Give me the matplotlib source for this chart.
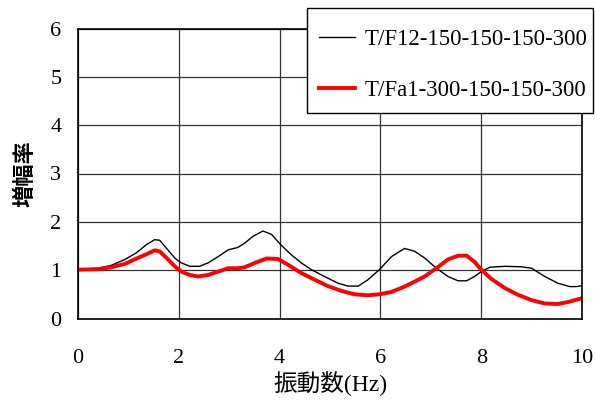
import matplotlib
matplotlib.use("Agg")
import matplotlib.pyplot as plt
from matplotlib.patches import Rectangle

freq_a = [0.0, 0.40, 0.66, 0.93, 1.16, 1.36, 1.52, 1.62, 1.75, 1.92, 2.05, 2.22, 2.41, 2.58, 2.78,
          2.98, 3.17, 3.31, 3.47, 3.67, 3.84, 4.02, 4.23, 4.43, 4.63, 4.89, 5.16, 5.36, 5.56,
          5.75, 5.98, 6.22, 6.48, 6.68, 6.88, 7.11, 7.34, 7.54, 7.71, 7.87, 8.0, 8.17, 8.47,
          8.80, 9.0, 9.26, 9.52, 9.76, 9.89, 10.0]
amp_a = [1.01, 1.04, 1.10, 1.22, 1.36, 1.53, 1.63, 1.62, 1.46, 1.25, 1.15, 1.08, 1.08, 1.15, 1.28,
         1.42, 1.47, 1.56, 1.70, 1.81, 1.74, 1.53, 1.32, 1.15, 1.01, 0.87, 0.73, 0.67, 0.67,
         0.80, 1.01, 1.28, 1.45, 1.39, 1.25, 1.04, 0.87, 0.78, 0.78, 0.87, 0.97, 1.06, 1.08,
         1.07, 1.04, 0.87, 0.73, 0.66, 0.66, 0.68]

freq_b = [0.0, 0.40, 0.66, 0.93, 1.16, 1.36, 1.52, 1.62, 1.75, 1.92, 2.05, 2.22, 2.38, 2.58, 2.78,
          2.98, 3.17, 3.31, 3.51, 3.74, 3.97, 4.17, 4.43, 4.70, 4.96, 5.23, 5.49, 5.75, 5.98,
          6.22, 6.48, 6.75, 6.88, 7.11, 7.34, 7.54, 7.71, 7.87, 8.0, 8.2, 8.47, 8.73, 9.0,
          9.26, 9.52, 9.76, 10.0]
amp_b = [1.01, 1.02, 1.06, 1.13, 1.24, 1.33, 1.41, 1.39, 1.26, 1.08, 0.97, 0.90, 0.87, 0.90, 0.97,
         1.04, 1.04, 1.06, 1.15, 1.24, 1.23, 1.11, 0.94, 0.80, 0.67, 0.57, 0.50, 0.48, 0.50,
         0.55, 0.66, 0.80, 0.87, 1.04, 1.22, 1.30, 1.30, 1.17, 1.01, 0.82, 0.63, 0.49, 0.38,
         0.31, 0.30, 0.35, 0.42]

labels = ["T/F12-150-150-150-300", "T/Fa1-300-150-150-300"]
x_ticks = [0, 2, 4, 6, 8, 10]
y_ticks = [0, 1, 2, 3, 4, 5, 6]

serif = ["Liberation Serif", "Noto Sans CJK JP", "DejaVu Sans"]
plt.rcParams["font.family"] = serif

W, H = 595, 405
fig = plt.figure(figsize=(W / 100, H / 100), dpi=100)
ax = fig.add_axes([78 / W, 1 - 318.5 / H, (582 - 78) / W, (318.5 - 28.5) / H])

ax.plot(freq_a, amp_a, color="black", lw=1.0, label=labels[0])
ax.plot(freq_b, amp_b, color="#ff0000", lw=2.8, label=labels[1])

ax.set_xlim(0, 10)
ax.set_ylim(0, 6)
ax.set_xticks(x_ticks)
ax.set_yticks(y_ticks)
ax.tick_params(axis="both", length=0, labelsize=16)
ax.tick_params(axis="x", pad=22)
ax.tick_params(axis="y", pad=12)
ax.grid(True, color="#333333", lw=0.9)
ax.set_axisbelow(True)
for s in ax.spines.values():
    s.set_color("black")
    s.set_linewidth(1.2)

ax.set_ylabel("増幅率", family=["Noto Sans CJK JP"], fontsize=16, fontweight="bold", labelpad=10)
ax.set_xlabel("振動数(Hz)", family=serif, fontsize=17, labelpad=2)

# legend frame
frame = Rectangle((307 / W, 1 - 113 / H), (593 - 307) / W, (113 - 8) / H,
                  transform=fig.transFigure, facecolor="white", edgecolor="black",
                  lw=1.0, zorder=3)
fig.patches.append(frame)

leg = fig.legend(loc="upper left", bbox_to_anchor=(307.5 / W, 1 - 17.5 / H),
                 fontsize=16.5, frameon=False, borderpad=0.5, labelspacing=1.32,
                 handlelength=1.57, handletextpad=0.44, borderaxespad=0)
leg.set_zorder(5)

fig.savefig("out.png", dpi=100)
